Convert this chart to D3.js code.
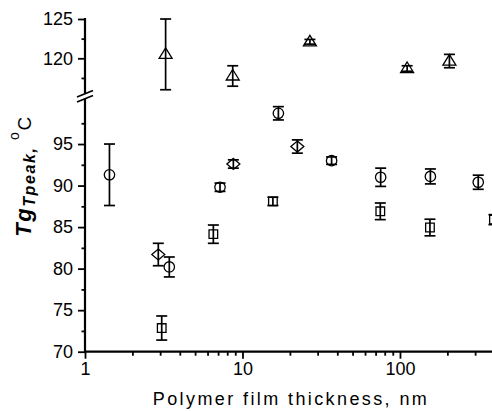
<!DOCTYPE html>
<html>
<head>
<meta charset="utf-8">
<script src="https://cdn.jsdelivr.net/npm/d3@7"></script>
<style>
  html, body { margin: 0; padding: 0; background: #fff; }
  svg { display: block; }
  text { font-family: "Liberation Sans", Arial, sans-serif; fill: #000; }
</style>
</head>
<body>
<svg id="chart" width="492" height="411"></svg>
<script>
// Film thickness (nm), Tg at the peak (°C) and error half-widths per sample series
const triThick = [3.25, 8.67, 26.8, 111, 206];
const triTg    = [120.5, 117.75, 122.1, 118.7, 119.65];
const triErr   = [4.5, 1.3, 0.3, 0.35, 0.85];

const cirThick = [1.43, 3.43, 7.2, 16.9, 36.8, 75.4, 156, 314];
const cirTg    = [91.3, 80.2, 89.8, 98.7, 93.0, 91.0, 91.1, 90.4];
const cirErr   = [3.7, 1.2, 0.5, 0.8, 0.45, 1.1, 0.9, 0.85];

const diaThick = [2.92, 8.75, 22.3];
const diaTg    = [81.7, 92.6, 94.7];
const diaErr   = [1.35, 0.5, 0.8];

const sqThick  = [3.07, 6.53, 15.6, 75, 155, 395];
const sqTg     = [72.85, 84.15, 88.1, 86.9, 84.95, 85.9];
const sqErr    = [1.45, 1.1, 0.5, 1.0, 1.0, 0.6];

// Axis ticks
const xMajor = [1, 10, 100];
const xMinor = [2, 3, 4, 5, 6, 7, 8, 9, 20, 30, 40, 50, 60, 70, 80, 90, 200, 300];
const yTopMajor = [120, 125];
const yTopMinor = [117.5, 122.5];
const yBotMajor = [70, 75, 80, 85, 90, 95];
const yBotMinor = [72.5, 77.5, 82.5, 87.5, 92.5, 97.5];

const svg = d3.select("#chart");

const x = d3.scaleLog().domain([1, 384]).range([85, 492]);
const yTop = d3.scaleLinear().domain([115, 125]).range([97.6, 19]);
const yBot = d3.scaleLinear().domain([70, 100]).range([351.7, 102.5]);
const xAxisY = yBot(70);
const yAxisX = x(1);

// --- axes ---
function styleAxis(g, width) {
  g.select(".domain").remove();
  g.selectAll(".tick line").attr("stroke", "#000").attr("stroke-width", width);
  g.selectAll(".tick text").attr("font-size", 18).attr("fill", "#000");
}

// y axis, upper panel
svg.append("g").attr("transform", `translate(${yAxisX},0)`)
  .call(d3.axisLeft(yTop).tickValues(yTopMajor).tickSize(7).tickPadding(5))
  .call(g => styleAxis(g, 1.8));
svg.append("g").attr("transform", `translate(${yAxisX},0)`)
  .call(d3.axisLeft(yTop).tickValues(yTopMinor).tickSize(3.5).tickFormat(""))
  .call(g => styleAxis(g, 1.8));

// y axis, lower panel
svg.append("g").attr("transform", `translate(${yAxisX},0)`)
  .call(d3.axisLeft(yBot).tickValues(yBotMajor).tickSize(7).tickPadding(5))
  .call(g => styleAxis(g, 1.8));
svg.append("g").attr("transform", `translate(${yAxisX},0)`)
  .call(d3.axisLeft(yBot).tickValues(yBotMinor).tickSize(3.5).tickFormat(""))
  .call(g => styleAxis(g, 1.8));

// x axis
svg.append("g").attr("transform", `translate(0,${xAxisY})`)
  .call(d3.axisBottom(x).tickValues(xMajor).tickSize(7).tickPadding(4).tickFormat(d3.format("d")))
  .call(g => styleAxis(g, 1.8));
svg.append("g").attr("transform", `translate(0,${xAxisY})`)
  .call(d3.axisBottom(x).tickValues(xMinor).tickSize(4).tickFormat(""))
  .call(g => styleAxis(g, 1.8));

// axis lines with the break between the panels
const axisLines = svg.append("g").attr("stroke", "#000").attr("stroke-width", 2.2).attr("fill", "none");
axisLines.append("line").attr("x1", yAxisX).attr("x2", yAxisX).attr("y1", yTop(125) - 1).attr("y2", 93.5);
axisLines.append("line").attr("x1", yAxisX).attr("x2", yAxisX).attr("y1", 98.5).attr("y2", xAxisY);
axisLines.append("line").attr("x1", yAxisX - 1).attr("x2", 492).attr("y1", xAxisY).attr("y2", xAxisY);
axisLines.append("line").attr("x1", yAxisX - 8).attr("y1", 97).attr("x2", yAxisX + 8).attr("y2", 90.5).attr("stroke-width", 1.8);
axisLines.append("line").attr("x1", yAxisX - 8).attr("y1", 102).attr("x2", yAxisX + 8).attr("y2", 95.5).attr("stroke-width", 1.8);

// --- data ---
const shapes = {
  triangle: "M0,-6.5L6.5,4L-6.5,4Z",
  circle: d3.symbol(d3.symbolCircle, Math.PI * 5.2 * 5.2)(),
  diamond: "M0,-5.5L6.5,0L0,5.5L-6.5,0Z",
  square: "M-4.3,-4.3H4.3V4.3H-4.3Z"
};

function drawSeries(thick, tg, err, yScale, shape) {
  const data = thick.map((t, i) => ({ t, v: tg[i], e: err[i] }));
  const g = svg.append("g").attr("stroke", "#000").attr("fill", "none");
  const bars = g.selectAll("g.bar").data(data).join("g").attr("class", "bar")
    .attr("stroke-width", 1.7);
  bars.append("line")
    .attr("x1", d => x(d.t)).attr("x2", d => x(d.t))
    .attr("y1", d => yScale(d.v + d.e)).attr("y2", d => yScale(d.v - d.e));
  bars.append("line")
    .attr("x1", d => x(d.t) - 5.5).attr("x2", d => x(d.t) + 5.5)
    .attr("y1", d => yScale(d.v + d.e)).attr("y2", d => yScale(d.v + d.e));
  bars.append("line")
    .attr("x1", d => x(d.t) - 5.5).attr("x2", d => x(d.t) + 5.5)
    .attr("y1", d => yScale(d.v - d.e)).attr("y2", d => yScale(d.v - d.e));
  g.selectAll("path.mark").data(data).join("path").attr("class", "mark")
    .attr("d", shapes[shape])
    .attr("stroke-width", 1.3)
    .attr("transform", d => `translate(${x(d.t)},${yScale(d.v)})`);
}

drawSeries(triThick, triTg, triErr, yTop, "triangle");
drawSeries(cirThick, cirTg, cirErr, yBot, "circle");
drawSeries(diaThick, diaTg, diaErr, yBot, "diamond");
drawSeries(sqThick, sqTg, sqErr, yBot, "square");

// --- axis titles ---
svg.append("text")
  .attr("x", 291).attr("y", 405)
  .attr("text-anchor", "middle")
  .attr("font-size", 18)
  .attr("letter-spacing", 2.4)
  .text("Polymer film thickness, nm");

const yTitle = svg.append("text")
  .attr("transform", "translate(31,176) rotate(-90)")
  .attr("text-anchor", "middle")
  .attr("letter-spacing", 1.6);
yTitle.append("tspan").attr("font-size", 22).attr("font-weight", "bold").attr("font-style", "italic").text("Tg");
yTitle.append("tspan").attr("font-size", 16).attr("font-weight", "bold").attr("font-style", "italic").attr("dy", 4).text("Tpeak,");
yTitle.append("tspan").attr("font-size", 18).attr("dy", -4).text("  ");
yTitle.append("tspan").attr("font-size", 14).attr("dy", -12).text("o");
yTitle.append("tspan").attr("font-size", 19).attr("dy", 12).text("C");
</script>
</body>
</html>
